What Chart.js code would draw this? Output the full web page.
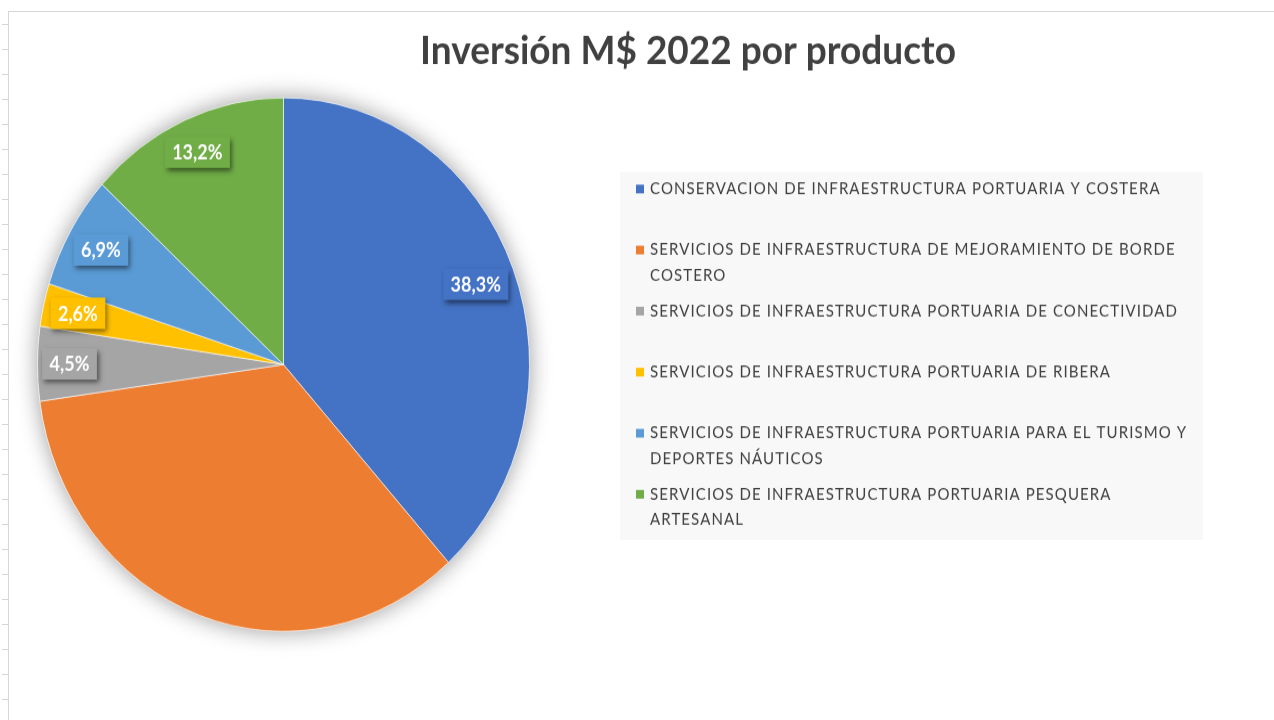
<!DOCTYPE html>
<html lang="es">
<head>
<meta charset="utf-8">
<title>Inversión M$ 2022 por producto</title>
<script src="https://cdn.jsdelivr.net/npm/chart.js@4.4.1/dist/chart.umd.min.js"></script>
<style>
  html, body { margin: 0; padding: 0; background: #fff; }
  #wrap { position: relative; width: 1274px; height: 720px; overflow: hidden; }
  #pie { position: absolute; left: 0; top: 0; }
  .frame-top { position: absolute; left: 8px; top: 11px; right: 0; height: 1px; background: #d6d6d6; }
  .frame-left { position: absolute; left: 8px; top: 11px; bottom: 0; width: 1px; background: #d6d6d6; }
  .ticks { position: absolute; left: 2px; top: 0; width: 6px; bottom: 0;
    background: repeating-linear-gradient(to bottom, transparent 0, transparent 24px, #d6d6d6 24px, #d6d6d6 25px); }
</style>
</head>
<body>
<div id="wrap">
  <canvas id="pie" width="1274" height="664" style="width:1274px;height:720px"></canvas>
  <div class="ticks"></div>
  <div class="frame-top"></div>
  <div class="frame-left"></div>
</div>
<script>
// datos del grafico
const chartTitle = 'Inversión M$ 2022 por producto';
const categories = [
    ['CONSERVACION DE INFRAESTRUCTURA PORTUARIA Y COSTERA'],
    ['SERVICIOS DE INFRAESTRUCTURA DE MEJORAMIENTO DE BORDE', 'COSTERO'],
    ['SERVICIOS DE INFRAESTRUCTURA PORTUARIA DE CONECTIVIDAD'],
    ['SERVICIOS DE INFRAESTRUCTURA PORTUARIA DE RIBERA'],
    ['SERVICIOS DE INFRAESTRUCTURA PORTUARIA PARA EL TURISMO Y', 'DEPORTES NÁUTICOS'],
    ['SERVICIOS DE INFRAESTRUCTURA PORTUARIA PESQUERA', 'ARTESANAL']
];
const shares = [38.3, 34.5, 4.5, 2.6, 6.9, 13.2];
// la etiqueta del naranjo no aparece en el original
const shownLabels = ['38,3%', null, '4,5%', '2,6%', '6,9%', '13,2%'];
const colors = ['#4472C4', '#ED7D31', '#A5A5A5', '#FFC000', '#5B9BD5', '#70AD47'];

const canvas = document.getElementById('pie');

// sombra suave alrededor del pie
const pieShadow = {
    id: 'pieShadow',
    beforeDatasetsDraw(chart) {
        const arc = chart.getDatasetMeta(0).data[0];
        if (!arc) return;
        const ctx = chart.ctx;
        ctx.save();
        ctx.shadowColor = 'rgba(0,0,0,0.4)';
        ctx.shadowBlur = 22;
        ctx.fillStyle = '#fff';
        ctx.beginPath();
        ctx.arc(arc.x, arc.y, arc.outerRadius, 0, Math.PI * 2);
        ctx.fill();
        ctx.restore();
    }
};

// etiquetas tipo Excel (extremo interno)
const labelBoxes = {
    id: 'labelBoxes',
    afterDatasetsDraw(chart) {
        const ctx = chart.ctx;
        const meta = chart.getDatasetMeta(0);
        ctx.save();
        ctx.font = 'bold 18px Lato';
        meta.data.forEach((arc, i) => {
            const txt = shownLabels[i];
            if (!txt) return;
            const p = arc.getProps(['x', 'y', 'startAngle', 'endAngle', 'outerRadius'], true);
            const mid = (p.startAngle + p.endAngle) / 2;
            const w = ctx.measureText(txt).width + 15;
            const h = 29;
            const ux = Math.cos(mid), uy = Math.sin(mid);
            let r = p.outerRadius;
            while (r > 0) {
                const cx = r * ux + Math.sign(ux) * w / 2;
                const cy = r * uy + Math.sign(uy) * h / 2;
                if (Math.hypot(cx, cy) <= p.outerRadius - 4) break;
                r -= 1;
            }
            const bx = p.x + r * ux, by = p.y + r * uy;
            ctx.save();
            ctx.shadowColor = 'rgba(0,0,0,0.55)';
            ctx.shadowBlur = 5;
            ctx.shadowOffsetX = 2;
            ctx.shadowOffsetY = 3;
            ctx.fillStyle = colors[i];
            ctx.fillRect(bx - w / 2, by - h / 2, w, h);
            ctx.restore();
            ctx.fillStyle = '#fff';
            ctx.textAlign = 'center';
            ctx.textBaseline = 'middle';
            ctx.fillText(txt, bx, by + 1);
        });
        ctx.restore();
    }
};

// leyenda a la derecha
const sideLegend = {
    id: 'sideLegend',
    afterDraw(chart) {
        const ctx = chart.ctx;
        ctx.save();
        ctx.fillStyle = '#f8f8f8';
        ctx.fillRect(620, 158.6, 583, 339.4);
        ctx.font = '15px Lato';
        ctx.letterSpacing = '1.1px';
        ctx.textBaseline = 'middle';
        ctx.textAlign = 'left';
        const bg = chart.data.datasets[0].backgroundColor;
        chart.data.labels.forEach((lines, i) => {
            const y0 = 174.3 + i * 56.3;
            ctx.fillStyle = bg[i];
            ctx.fillRect(636, y0 - 4, 8, 8);
            ctx.fillStyle = '#404040';
            lines.forEach((ln, j) => ctx.fillText(ln, 650, y0 + j * 23.5));
        });
        ctx.restore();
    }
};

const titlePlugin = {
    id: 'titlePlugin',
    afterDraw(chart) {
        const ctx = chart.ctx;
        ctx.save();
        ctx.font = 'bold 37px Lato';
        ctx.fillStyle = '#404040';
        ctx.textAlign = 'center';
        ctx.textBaseline = 'alphabetic';
        ctx.fillText(chartTitle, 688, 59);
        ctx.restore();
    }
};

const chart = new Chart(canvas, {
    type: 'pie',
    data: {
        labels: categories,
        datasets: [{
            data: shares,
            backgroundColor: colors,
            borderColor: 'rgba(255,255,255,0.6)',
            borderWidth: 1
        }]
    },
    options: {
        responsive: false,
        animation: false,
        devicePixelRatio: 1,
        layout: { padding: { left: 37, right: 744, top: 89.7, bottom: 81.3 } },
        plugins: {
            legend: { display: false },
            tooltip: { enabled: false }
        }
    },
    plugins: [pieShadow, labelBoxes, sideLegend, titlePlugin]
});

// el original esta un poco estirado en vertical
canvas.style.width = '1274px';
canvas.style.height = '720px';
</script>
</body>
</html>
